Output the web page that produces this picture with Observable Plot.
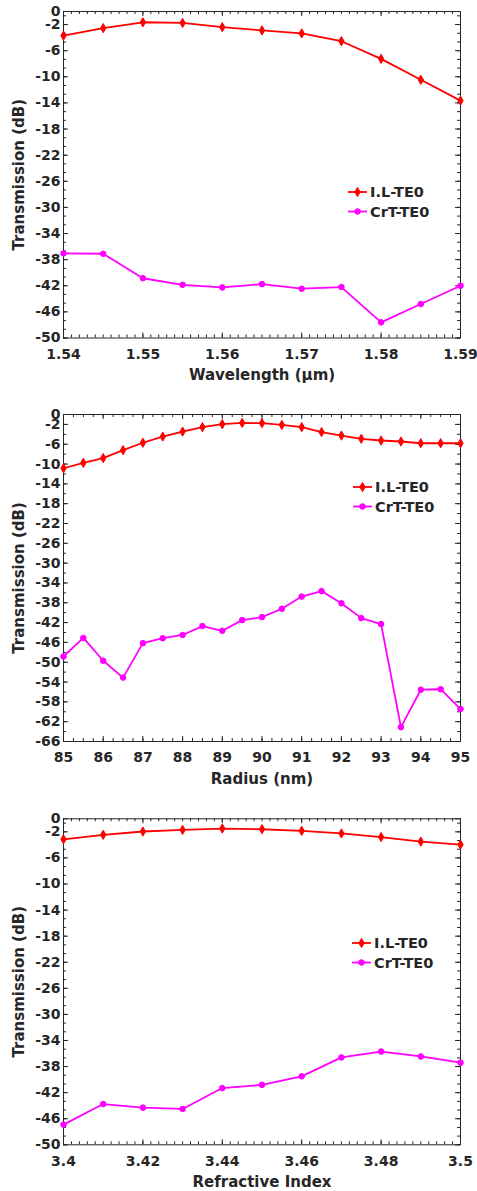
<!DOCTYPE html>
<html><head><meta charset="utf-8">
<script src="https://cdn.jsdelivr.net/npm/d3@7"></script>
<script src="https://cdn.jsdelivr.net/npm/@observablehq/plot@0.6"></script>
<style>
body{margin:0;background:#fff;}
#wrap{width:477px;}
.panel{position:relative;width:477px;}
.panel svg{display:block;}
.legend{position:absolute;}
</style></head><body><div id="wrap"></div>
<script>
// ---- data ----
const seriesNames = ["I.L-TE0", "CrT-TE0"];
const seriesColors = ["#ff0000", "#ff00ff"];
const seriesSymbols = ["diamond", "circle"];
const yTitle = "Transmission (dB)";

const wavelength = [1.54, 1.545, 1.55, 1.555, 1.56, 1.565, 1.57, 1.575, 1.58, 1.585, 1.59];
const wlIL  = [-3.7, -2.55, -1.65, -1.75, -2.4, -2.9, -3.35, -4.55, -7.25, -10.45, -13.65];
const wlCrT = [-37.05, -37.1, -40.85, -41.85, -42.25, -41.75, -42.45, -42.2, -47.6, -44.8, -42.0];
const wlTicks = [1.54, 1.55, 1.56, 1.57, 1.58, 1.59];

const radius = [85, 85.5, 86, 86.5, 87, 87.5, 88, 88.5, 89, 89.5, 90, 90.5, 91, 91.5, 92, 92.5, 93, 93.5, 94, 94.5, 95];
const radIL  = [-10.85, -9.75, -8.8, -7.2, -5.7, -4.45, -3.45, -2.55, -1.95, -1.7, -1.75, -2.1, -2.55, -3.55, -4.25, -4.9, -5.25, -5.45, -5.8, -5.8, -5.8];
const radCrT = [-48.85, -45.1, -49.7, -53.1, -46.15, -45.15, -44.5, -42.7, -43.65, -41.5, -40.9, -39.2, -36.75, -35.65, -38.1, -41.1, -42.3, -63.1, -55.55, -55.45, -59.45];
const radTicks = [85, 86, 87, 88, 89, 90, 91, 92, 93, 94, 95];

const refIndex = [3.40, 3.41, 3.42, 3.43, 3.44, 3.45, 3.46, 3.47, 3.48, 3.49, 3.50];
const riIL  = [-3.15, -2.45, -1.95, -1.7, -1.5, -1.6, -1.85, -2.25, -2.8, -3.5, -3.95];
const riCrT = [-46.9, -43.75, -44.3, -44.5, -41.3, -40.8, -39.5, -36.6, -35.7, -36.45, -37.4];
const riTicks = [3.4, 3.42, 3.44, 3.46, 3.48, 3.5];

const yTicks50 = [0, -2, -6, -10, -14, -18, -22, -26, -30, -34, -38, -42, -46, -50];
const yTicks66 = [0, -2, -6, -10, -14, -18, -22, -26, -30, -34, -38, -42, -46, -50, -54, -58, -62, -66];

// minor tick positions
const wlMinor = d3.range(1540, 1591).map(d => d / 1000);
const radMinor = d3.range(0, 41).map(k => 85 + k * 0.25);
const riMinor = d3.range(3400, 3501, 2).map(d => d / 1000);
const yMinor50 = d3.range(0, 38).map(k => -50 + k * 4 / 3);
const yMinor66 = d3.range(-66, 1, 2);

const FONT = "DejaVu Sans";
const INK = "#262626";
const R_DIAMOND = 2.8, R_CIRCLE = 2.8;

function panel(o) {
  const W = 477, ml = 63, mr = 17;
  const pw = W - ml - mr, ph = o.height - o.mt - o.mb;
  const il = o.x.map((v, i) => ({x: v, y: o.il[i]}));
  const crt = o.x.map((v, i) => ({x: v, y: o.crt[i]}));
  const majL = 5, minL = 3;
  const chart = Plot.plot({
    width: W, height: o.height,
    marginLeft: ml, marginRight: mr, marginTop: o.mt, marginBottom: o.mb,
    style: {fontFamily: FONT, fontWeight: "bold", fontSize: "14px", color: INK, background: "#fff", overflow: "visible"},
    x: {domain: o.xDomain},
    y: {domain: o.yDomain},
    marks: [
      Plot.frame({stroke: INK, strokeWidth: 1}),
      Plot.tickX(o.xMinor, {x: d => d, insetTop: ph - minL, stroke: INK}),
      Plot.tickX(o.xMinor, {x: d => d, insetBottom: ph - minL, stroke: INK}),
      Plot.tickX(o.xTicks, {x: d => d, insetTop: ph - majL, stroke: INK}),
      Plot.tickX(o.xTicks, {x: d => d, insetBottom: ph - majL, stroke: INK}),
      Plot.tickY(o.yMinor, {y: d => d, insetRight: pw - minL, stroke: INK}),
      Plot.tickY(o.yMinor, {y: d => d, insetLeft: pw - minL, stroke: INK}),
      Plot.tickY(o.yTicks, {y: d => d, insetRight: pw - majL, stroke: INK}),
      Plot.tickY(o.yTicks, {y: d => d, insetLeft: pw - majL, stroke: INK}),
      Plot.axisX(o.xTicks, {tickSize: 0, tickPadding: 11, tickFormat: d => String(d), label: null, fontSize: 14, fill: INK}),
      Plot.axisY(o.yTicks, {tickSize: 0, tickPadding: 3, tickFormat: d => String(d), label: null, fontSize: 14, fill: INK}),
      Plot.line(il, {x: "x", y: "y", stroke: seriesColors[0], strokeWidth: 1.8}),
      Plot.dot(il, {x: "x", y: "y", symbol: seriesSymbols[0], r: R_DIAMOND, fill: seriesColors[0], stroke: seriesColors[0], strokeWidth: 1}),
      Plot.line(crt, {x: "x", y: "y", stroke: seriesColors[1], strokeWidth: 1.8}),
      Plot.dot(crt, {x: "x", y: "y", symbol: seriesSymbols[1], r: R_CIRCLE, fill: seriesColors[1], stroke: seriesColors[1], strokeWidth: 1}),
      Plot.text([yTitle], {text: d => d, frameAnchor: "left", dx: -44.5, rotate: -90, textAnchor: "middle", lineAnchor: "middle", fontSize: 15, fill: INK}),
      Plot.text([o.xLabel], {text: d => d, frameAnchor: "bottom", dy: o.titleDy, textAnchor: "middle", lineAnchor: "middle", fontSize: 15, fill: INK})
    ]
  });
  const div = document.createElement("div");
  div.className = "panel";
  div.appendChild(chart);
  // legend
  const lg = d3.create("svg").attr("class", "legend").attr("width", 120).attr("height", 50)
    .style("left", o.legendX + "px").style("top", o.legendY + "px")
    .style("font-family", FONT).style("font-weight", "bold").style("font-size", "14.5px");
  seriesNames.forEach((name, i) => {
    const g = lg.append("g").attr("transform", `translate(0,${10 + i * 19.5})`);
    g.append("line").attr("x1", 0).attr("x2", 19).attr("y1", 0).attr("y2", 0)
      .attr("stroke", seriesColors[i]).attr("stroke-width", 1.8);
    const sym = seriesSymbols[i] === "diamond" ? d3.symbol(d3.symbolDiamond, Math.PI * R_DIAMOND * R_DIAMOND) : d3.symbol(d3.symbolCircle, Math.PI * R_CIRCLE * R_CIRCLE);
    g.append("path").attr("d", sym()).attr("transform", "translate(9.5,0)")
      .attr("fill", seriesColors[i]).attr("stroke", seriesColors[i]);
    g.append("text").attr("x", 22).attr("y", 0).attr("dy", "0.36em").attr("fill", INK).text(name);
  });
  div.appendChild(lg.node());
  document.getElementById("wrap").appendChild(div);
}

panel({height: 395, mt: 11, mb: 57.5, x: wavelength, il: wlIL, crt: wlCrT,
  xDomain: [1.54, 1.59], xTicks: wlTicks, xMinor: wlMinor,
  yDomain: [-50, 0], yTicks: yTicks50, yMinor: yMinor50,
  xLabel: "Wavelength (μm)", titleDy: 37.5, legendX: 348, legendY: 182});

panel({height: 400, mt: 19, mb: 54, x: radius, il: radIL, crt: radCrT,
  xDomain: [85, 95], xTicks: radTicks, xMinor: radMinor,
  yDomain: [-66, 0], yTicks: yTicks66, yMinor: yMinor66,
  xLabel: "Radius (nm)", titleDy: 38, legendX: 353, legendY: 82});

panel({height: 396, mt: 23.3, mb: 46.7, x: refIndex, il: riIL, crt: riCrT,
  xDomain: [3.4, 3.5], xTicks: riTicks, xMinor: riMinor,
  yDomain: [-50, 0], yTicks: yTicks50, yMinor: yMinor50,
  xLabel: "Refractive Index", titleDy: 37.7, legendX: 352, legendY: 138});
</script>
</body></html>
